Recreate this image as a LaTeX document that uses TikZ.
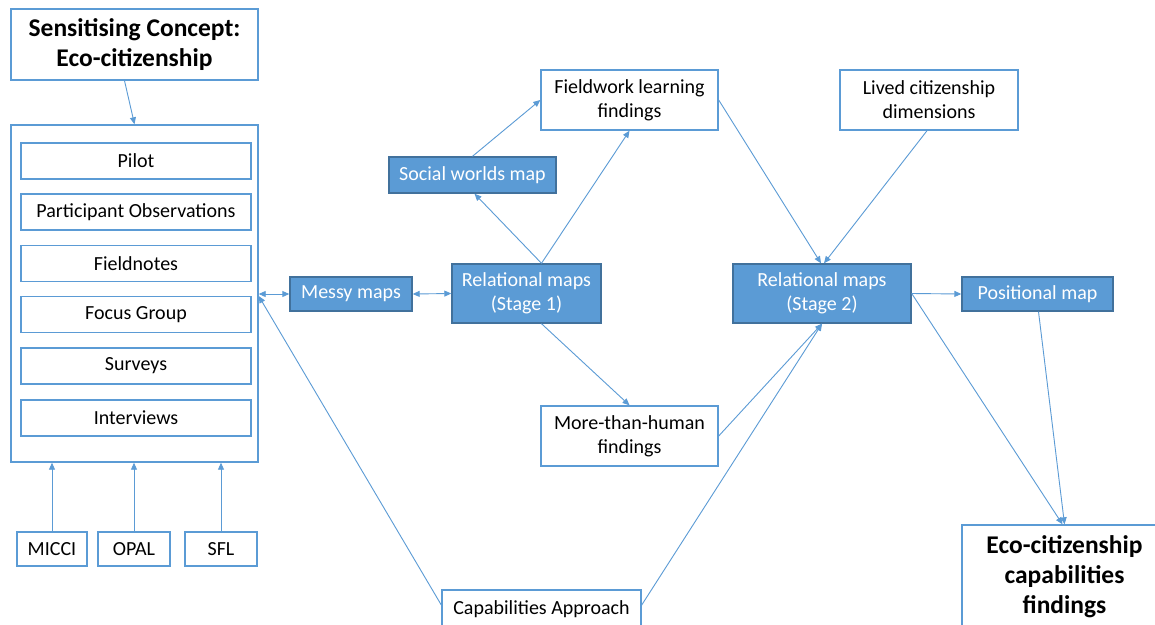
\documentclass[tikz,border=0pt]{standalone}
\usepackage{fontspec}
\setmainfont{Carlito}
\usetikzlibrary{arrows.meta}
\definecolor{lineblue}{HTML}{5B9BD5}
\definecolor{fillblue}{HTML}{5B9BD5}
\definecolor{edgeblue}{HTML}{41719C}
\begin{document}
\begin{tikzpicture}[x=1pt,y=-1pt,
  reg/.style={font=\fontsize{20}{24}\selectfont},
  big/.style={font=\fontsize{25.5}{30}\selectfont\bfseries},
  wbox/.style={draw=lineblue,line width=1.4pt,fill=white,text=black,align=center,inner sep=0pt,reg},
  fbox/.style={draw=edgeblue,line width=1.4pt,fill=fillblue,text=white,align=center,inner sep=0pt,reg},
  conn/.style={draw=lineblue,line width=0.9pt,-{Triangle[length=7pt,width=6pt]}},
  dconn/.style={draw=lineblue,line width=0.9pt,{Triangle[length=7pt,width=6pt]}-{Triangle[length=7pt,width=6pt]}},
  wh/.style 2 args={minimum width=#1pt,minimum height=#2pt}]
\useasboundingbox (0,0) rectangle (1155,624);
\clip (0,0) rectangle (1155,624);
\fill[white] (0,0) rectangle (1155,624);

% left column: sensitising concept, data sources and methods
\node[wbox,big,wh={247}{71}] (sens) at (134.5,44.5) {Sensitising Concept:\\Eco-citizenship};
\node[wbox,wh={247}{337}] (cont) at (134.5,293.5) {};
\node[wbox,wh={230}{36}] (pilot) at (136,161) {Pilot};
\node[wbox,wh={230}{36}] (obs) at (136,212) {Participant Observations};
\node[wbox,wh={230}{36}] (notes) at (136,263.5) {Fieldnotes};
\node[wbox,wh={230}{36}] (focus) at (136,314.5) {Focus Group};
\node[wbox,wh={230}{36}] (surv) at (136,366) {Surveys};
\node[wbox,wh={230}{36}] (intv) at (136,418) {Interviews};
\node[wbox,wh={70}{34}] (micci) at (52,549) {MICCI};
\node[wbox,wh={72}{34}] (opal) at (134,549) {OPAL};
\node[wbox,wh={72}{34}] (sfl) at (221,549) {SFL};

% mapping stages
\node[fbox,wh={122}{34}] (messy) at (351,294) {Messy maps};
\node[fbox,wh={149}{59}] (rel1) at (526.5,293.5) {Relational maps\\(Stage 1)};
\node[fbox,wh={167}{36}] (social) at (472.5,175) {Social worlds map};
\node[wbox,wh={177}{60}] (field) at (629.5,100) {Fieldwork learning\\findings};
\node[wbox,wh={177}{60}] (mth) at (629.5,436) {More-than-human\\findings};
\node[wbox,wh={178}{60}] (lived) at (929,100) {Lived citizenship\\dimensions};
\node[fbox,wh={178}{59}] (rel2) at (822,293.5) {Relational maps\\(Stage 2)};
\node[fbox,wh={151}{34}] (pos) at (1037.5,294) {Positional map};
\node[wbox,wh={199}{38}] (cap) at (541.5,609) {Capabilities Approach};
\node[wbox,wh={205}{105}] (eco) at (1064.5,577.5) {};
\node[big,align=center,text=black,inner sep=0pt,anchor=base] (ecotext) at (1064.5,613)
  {Eco-citizenship\\capabilities\\findings};

% connectors
\draw[conn] ([xshift=-10pt]sens.south) -- (cont.north);
\draw[conn] (micci.north) -- (micci.north |- cont.south);
\draw[conn] (opal.north) -- (opal.north |- cont.south);
\draw[conn] (sfl.north) -- (sfl.north |- cont.south);
\draw[dconn] (messy.west -| cont.east) -- (messy.west);
\draw[dconn] (messy.east) -- (rel1.west);
\draw[conn] ([xshift=15pt]rel1.north) -- ([xshift=2pt]social.south);
\draw[conn] ([xshift=15pt]rel1.north) -- (field.south);
\draw[conn] (social.north) -- (field.west);
\draw[conn] ([xshift=15pt]rel1.south) -- (mth.north);
\draw[conn] (field.east) -- ([xshift=-1pt]rel2.north);
\draw[conn] ([xshift=-2pt]lived.south) -- ([xshift=2pt]rel2.north);
\draw[conn] (rel2.east) -- (pos.west);
\draw[conn] ([xshift=1pt]pos.south) -- (eco.north);
\draw[conn] (rel2.east) -- ([xshift=-2pt]eco.north);
\draw[conn] (mth.east) -- (rel2.south);
\draw[conn] ([yshift=4pt]cap.east) -- (rel2.south);
\draw[conn] ([yshift=4pt]cap.west) -- ([yshift=-2.5pt]cont.east);
\end{tikzpicture}
\end{document}
